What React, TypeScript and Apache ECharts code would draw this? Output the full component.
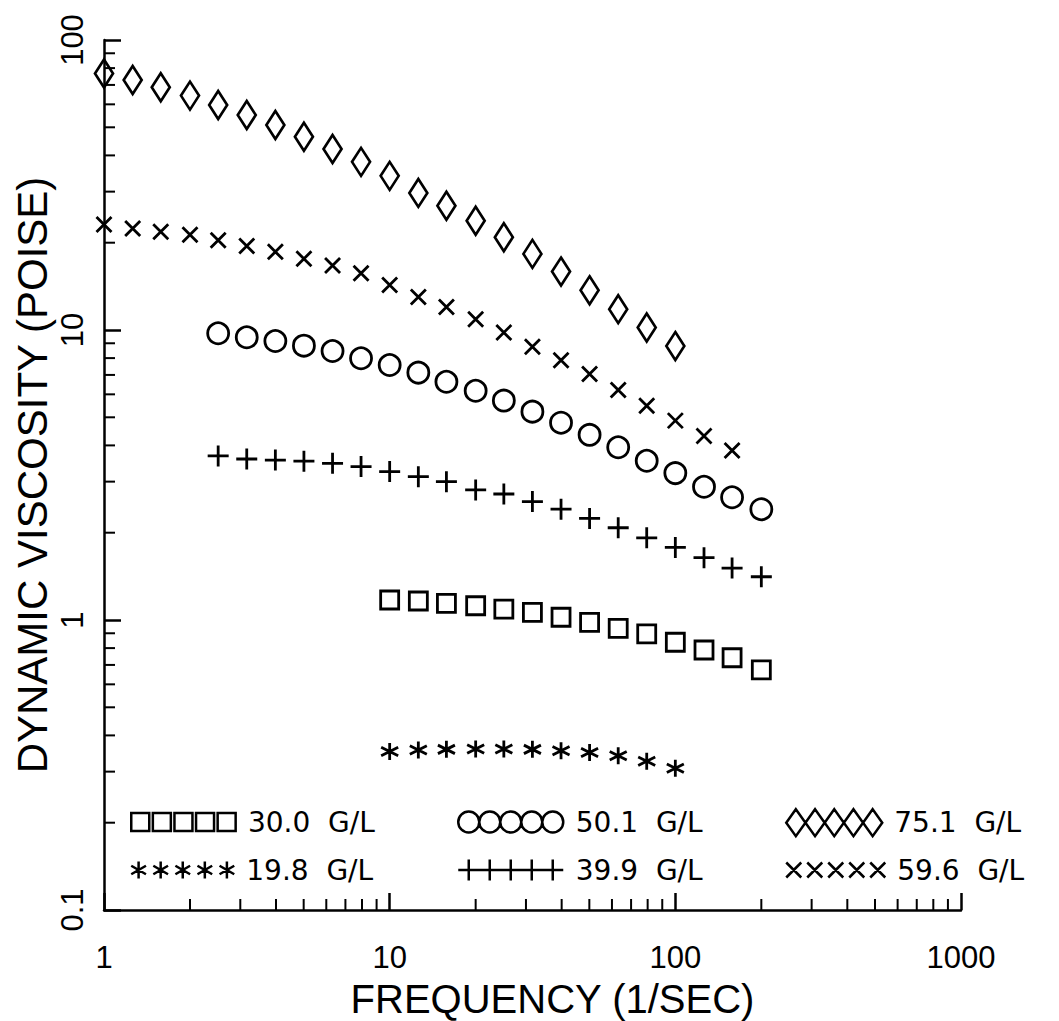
import React, { useEffect, useRef } from "react";
import * as echarts from "echarts";

// Frequencies (1/sec), 10 points per decade
const frequencies = [
  1, 1.26, 1.58, 2, 2.51, 3.16, 3.98, 5.01, 6.31, 7.94, 10, 12.6, 15.8, 20,
  25.1, 31.6, 39.8, 50.1, 63.1, 79.4, 100, 126, 158, 200,
];

// Dynamic viscosity (poise) per concentration; first frequency index given
const diamond751Start = 0;
const diamond751 = [
  76.7, 72.8, 68.7, 64.3, 59.7, 55.1, 50.9, 46.4, 42.1, 38.0, 34.0, 29.7, 26.8,
  23.8, 20.9, 18.3, 15.9, 13.7, 11.8, 10.2, 8.8,
];
const cross596Start = 0;
const cross596 = [
  23.1, 22.4, 21.8, 21.3, 20.4, 19.5, 18.6, 17.6, 16.7, 15.7, 14.3, 13.0, 12.0,
  10.9, 9.8, 8.76, 7.86, 7.05, 6.21, 5.48, 4.87, 4.31, 3.84,
];
const circle501Start = 4;
const circle501 = [
  9.74, 9.44, 9.16, 8.83, 8.46, 7.99, 7.57, 7.13, 6.63, 6.17, 5.71, 5.23, 4.79,
  4.35, 3.94, 3.54, 3.21, 2.88, 2.65, 2.41,
];
const plus399Start = 4;
const plus399 = [
  3.68, 3.59, 3.56, 3.53, 3.47, 3.38, 3.25, 3.12, 3.0, 2.81, 2.72, 2.56, 2.41,
  2.24, 2.08, 1.92, 1.78, 1.64, 1.51, 1.41,
];
const square300Start = 10;
const square300 = [
  1.172, 1.163, 1.142, 1.12, 1.091, 1.063, 1.022, 0.982, 0.936, 0.895, 0.838,
  0.788, 0.741, 0.673,
];
const star198Start = 10;
const star198 = [
  0.352, 0.356, 0.358, 0.359, 0.359, 0.358, 0.354, 0.349, 0.34, 0.326, 0.308,
];

const seriesNames = [
  "30.0  G/L",
  "50.1  G/L",
  "75.1  G/L",
  "19.8  G/L",
  "39.9  G/L",
  "59.6  G/L",
];

const xMin = 1;
const xMax = 1000;
const yMin = 0.1;
const yMax = 100;
const xMinorTicks = [
  2, 3, 4, 5, 6, 7, 8, 9, 20, 30, 40, 50, 60, 70, 80, 90, 200, 300, 400, 500,
  600, 700, 800, 900,
];
const yMinorTicks = [
  0.2, 0.3, 0.4, 0.5, 0.6, 0.7, 0.8, 0.9, 2, 3, 4, 5, 6, 7, 8, 9, 20, 30, 40,
  50, 60, 70, 80, 90,
];

const pair = (start: number, vals: number[]) =>
  vals.map((v, i) => [frequencies[start + i], v]);

// symbol shapes
const plusPath = "path://M0,5 L10,5 M5,0 L5,10";
const crossPath = "path://M0,0 L10,10 M10,0 L0,10";
const starPath =
  "path://M5,0 L5,10 M0.67,2.5 L9.33,7.5 M0.67,7.5 L9.33,2.5";

const rep = (n: number, f: (i: number) => string) =>
  Array.from({ length: n }, (_, i) => f(i)).join(" ");
const legendSquares =
  "path://" +
  rep(5, (i) => `M${i * 12},0 L${i * 12 + 10},0 L${i * 12 + 10},10 L${i * 12},10 Z`);
const legendCircles =
  "path://" +
  rep(
    5,
    (i) =>
      `M${i * 20},10 A10,10 0 1,1 ${i * 20 + 20},10 A10,10 0 1,1 ${i * 20},10 Z`
  );
const legendDiamonds =
  "path://" +
  rep(
    5,
    (i) =>
      `M${i * 10 + 5},0 L${i * 10 + 10},7 L${i * 10 + 5},14 L${i * 10},7 Z`
  );
const legendStars =
  "path://" +
  rep(
    5,
    (i) =>
      `M${i * 13 + 5},0 L${i * 13 + 5},10 M${i * 13 + 0.67},2.5 L${i * 13 + 9.33},7.5 M${i * 13 + 0.67},7.5 L${i * 13 + 9.33},2.5`
  );
const legendPlus =
  "path://M0,10 L100,10 " + rep(5, (i) => `M${i * 20 + 10},0 L${i * 20 + 10},20`);
const legendCross =
  "path://" +
  rep(
    5,
    (i) =>
      `M${i * 14},0 L${i * 14 + 10},10 M${i * 14 + 10},0 L${i * 14},10`
  );

const FONT = "'Liberation Sans', Arial, sans-serif";
const LEGEND_FONT = "'DejaVu Sans', sans-serif";
const BLACK = "#000";

const markStyle = {
  color: "rgba(0,0,0,0)",
  borderColor: BLACK,
  borderWidth: 2.8,
  opacity: 1,
};

const fmt = (v: number) => {
  const r = +Number(v).toPrecision(3);
  return r < 1 ? r.toFixed(1) : String(Math.round(r));
};

function makeLegend(
  name: string,
  icon: string,
  left: number,
  top: number,
  w: number,
  h: number
) {
  return {
    data: [{ name, icon }],
    left,
    top,
    orient: "horizontal",
    padding: 0,
    itemWidth: w,
    itemHeight: h,
    selectedMode: false,
    itemStyle: {
      color: "rgba(0,0,0,0)",
      borderColor: BLACK,
      borderWidth: 2.5,
      opacity: 1,
    },
    textStyle: {
      fontFamily: LEGEND_FONT,
      fontSize: 28,
      color: BLACK,
      padding: [0, 0, 0, 7],
    },
  };
}

export default function App() {
  const ref = useRef<HTMLDivElement>(null);
  useEffect(() => {
    const chart = echarts.init(ref.current!, null, { renderer: "svg" });
    const option: any = {
      animation: false,
      backgroundColor: "#fff",
      grid: {
        left: 104,
        top: 40,
        right: 98,
        bottom: 111,
        containLabel: false,
        outerBoundsMode: "none",
      },
      legend: [
        makeLegend(seriesNames[0], legendSquares, 130, 808, 105, 18),
        makeLegend(seriesNames[1], legendCircles, 457, 808, 106, 21),
        makeLegend(seriesNames[2], legendDiamonds, 785, 808, 96, 27),
        makeLegend(seriesNames[3], legendStars, 130, 856, 103, 17),
        makeLegend(seriesNames[4], legendPlus, 457, 856, 106, 21),
        makeLegend(seriesNames[5], legendCross, 785, 856, 99, 15),
      ],
      xAxis: {
        type: "log",
        logBase: 10,
        min: xMin,
        max: xMax,
        axisLine: { show: true, onZero: false, lineStyle: { color: BLACK, width: 2.5 } },
        axisTick: { show: true, inside: true, length: 17, lineStyle: { color: BLACK, width: 2.5 } },
        minorTick: { show: false },
        splitLine: { show: false },
        axisLabel: {
          margin: 32,
          fontSize: 31,
          fontFamily: FONT,
          color: BLACK,
          formatter: fmt,
        },
        name: "FREQUENCY (1/SEC)",
        nameLocation: "middle",
        nameGap: 69,
        nameMoveOverlap: false,
        nameTextStyle: {
          fontSize: 40,
          fontFamily: FONT,
          color: BLACK,
          padding: [0, 0, 0, 40],
        },
      },
      yAxis: {
        type: "log",
        logBase: 10,
        min: yMin,
        max: yMax,
        axisLine: { show: true, onZero: false, lineStyle: { color: BLACK, width: 2.5 } },
        axisTick: { show: true, inside: true, length: 17, lineStyle: { color: BLACK, width: 2.5 } },
        minorTick: { show: false },
        splitLine: { show: false },
        axisLabel: {
          margin: 16,
          rotate: 90,
          fontSize: 31,
          fontFamily: FONT,
          color: BLACK,
          formatter: fmt,
        },
        name: "DYNAMIC VISCOSITY (POISE)",
        nameLocation: "middle",
        nameRotate: 90,
        nameGap: 51,
        nameMoveOverlap: false,
        nameTextStyle: { fontSize: 42, fontFamily: FONT, color: BLACK },
      },
      series: [
        {
          type: "custom",
          name: "xMinor",
          silent: true,
          clip: false,
          data: xMinorTicks.map((v) => [v, yMin]),
          renderItem: (params: any, api: any) => {
            const p = api.coord([api.value(0), api.value(1)]);
            return {
              type: "line",
              shape: { x1: p[0], y1: p[1], x2: p[0], y2: p[1] - 11 },
              style: { stroke: BLACK, lineWidth: 2 },
            };
          },
        },
        {
          type: "custom",
          name: "yMinor",
          silent: true,
          clip: false,
          data: yMinorTicks.map((v) => [xMin, v]),
          renderItem: (params: any, api: any) => {
            const p = api.coord([api.value(0), api.value(1)]);
            return {
              type: "line",
              shape: { x1: p[0], y1: p[1], x2: p[0] + 11, y2: p[1] },
              style: { stroke: BLACK, lineWidth: 2 },
            };
          },
        },
        {
          type: "scatter",
          name: seriesNames[0],
          symbol: "rect",
          symbolSize: 18,
          itemStyle: markStyle,
          data: pair(square300Start, square300),
        },
        {
          type: "scatter",
          name: seriesNames[1],
          symbol: "circle",
          symbolSize: 21,
          itemStyle: markStyle,
          data: pair(circle501Start, circle501),
        },
        {
          type: "scatter",
          name: seriesNames[2],
          symbol: "diamond",
          symbolSize: [18, 28],
          itemStyle: markStyle,
          data: pair(diamond751Start, diamond751),
        },
        {
          type: "scatter",
          name: seriesNames[3],
          symbol: starPath,
          symbolSize: 17,
          itemStyle: markStyle,
          data: pair(star198Start, star198),
        },
        {
          type: "scatter",
          name: seriesNames[4],
          symbol: plusPath,
          symbolSize: 21,
          itemStyle: markStyle,
          data: pair(plus399Start, plus399),
        },
        {
          type: "scatter",
          name: seriesNames[5],
          symbol: crossPath,
          symbolSize: 15,
          itemStyle: markStyle,
          data: pair(cross596Start, cross596),
        },
      ],
    };
    chart.setOption(option);
    return () => chart.dispose();
  }, []);
  return (
    <div
      ref={ref}
      style={{ position: "absolute", left: 0, top: 0, width: 1059, height: 1021, background: "#fff" }}
    />
  );
}
